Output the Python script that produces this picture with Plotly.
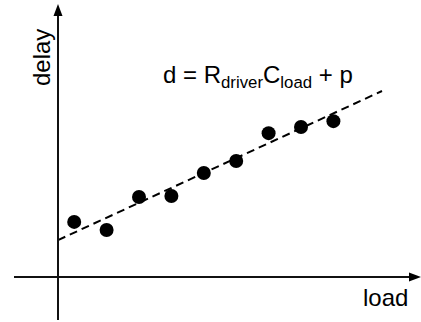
import plotly.graph_objects as go

# Data (arbitrary units)
load = [0.5, 1.5, 2.5, 3.5, 4.5, 5.5, 6.5, 7.5, 8.5]
delay = [1.70, 1.45, 2.47, 2.50, 3.21, 3.58, 4.44, 4.63, 4.81]
fit_load = [0.0, 10.0]
fit_intercept = 1.14
fit_slope = 0.46
fit_delay = [fit_intercept + fit_slope * v for v in fit_load]

FONT = "Arial, Liberation Sans, sans-serif"
U = 32.4  # pixels per unit
X0, Y0 = 58, 277  # pixel position of the origin


def px(v):
    return (v - X0) / U


def py(v):
    return (Y0 - v) / U


fig = go.Figure()
fig.add_trace(go.Scatter(x=fit_load, y=fit_delay, mode="lines",
                         line=dict(color="black", width=2, dash="8px,5px"),
                         hoverinfo="skip"))
fig.add_trace(go.Scatter(x=load, y=delay, mode="markers",
                         marker=dict(color="black", size=14)))

# axes: lines plus filled arrowheads
ax_line = dict(color="#111111", width=2)
fig.add_shape(type="line", xref="x", yref="y", x0=0, x1=0, y0=py(320), y1=py(12), line=ax_line)
fig.add_shape(type="line", xref="x", yref="y", x0=px(14), x1=px(412), y0=0, y1=0, line=ax_line)
fig.add_shape(type="path", xref="x", yref="y", fillcolor="black", line=dict(width=0),
              path=f"M {px(58)},{py(4)} L {px(62.5)},{py(16)} L {px(53.5)},{py(16)} Z")
fig.add_shape(type="path", xref="x", yref="y", fillcolor="black", line=dict(width=0),
              path=f"M {px(421)},{py(277)} L {px(409)},{py(272.5)} L {px(409)},{py(281.5)} Z")

fig.add_annotation(x=px(41), y=py(58), text="delay", textangle=-90,
                   showarrow=False, font=dict(family=FONT, size=24, color="black"))
fig.add_annotation(x=px(385), y=py(297), text="load",
                   showarrow=False, font=dict(family=FONT, size=24, color="black"))
fig.add_annotation(x=px(161), y=py(76), xanchor="left",
                   text="d = R<sub>driver</sub>C<sub>load</sub> + p",
                   showarrow=False, font=dict(family=FONT, size=24, color="black"))

fig.update_layout(
    width=421, height=322, margin=dict(l=0, r=0, t=0, b=0),
    paper_bgcolor="white", plot_bgcolor="white", showlegend=False,
    xaxis=dict(range=[px(0), px(421)], visible=False, fixedrange=True),
    yaxis=dict(range=[py(322), py(0)], visible=False, fixedrange=True),
)

fig.write_html("out.html", config={"displayModeBar": False},
               post_script="document.body.style.margin='0';document.body.style.overflow='hidden';")
